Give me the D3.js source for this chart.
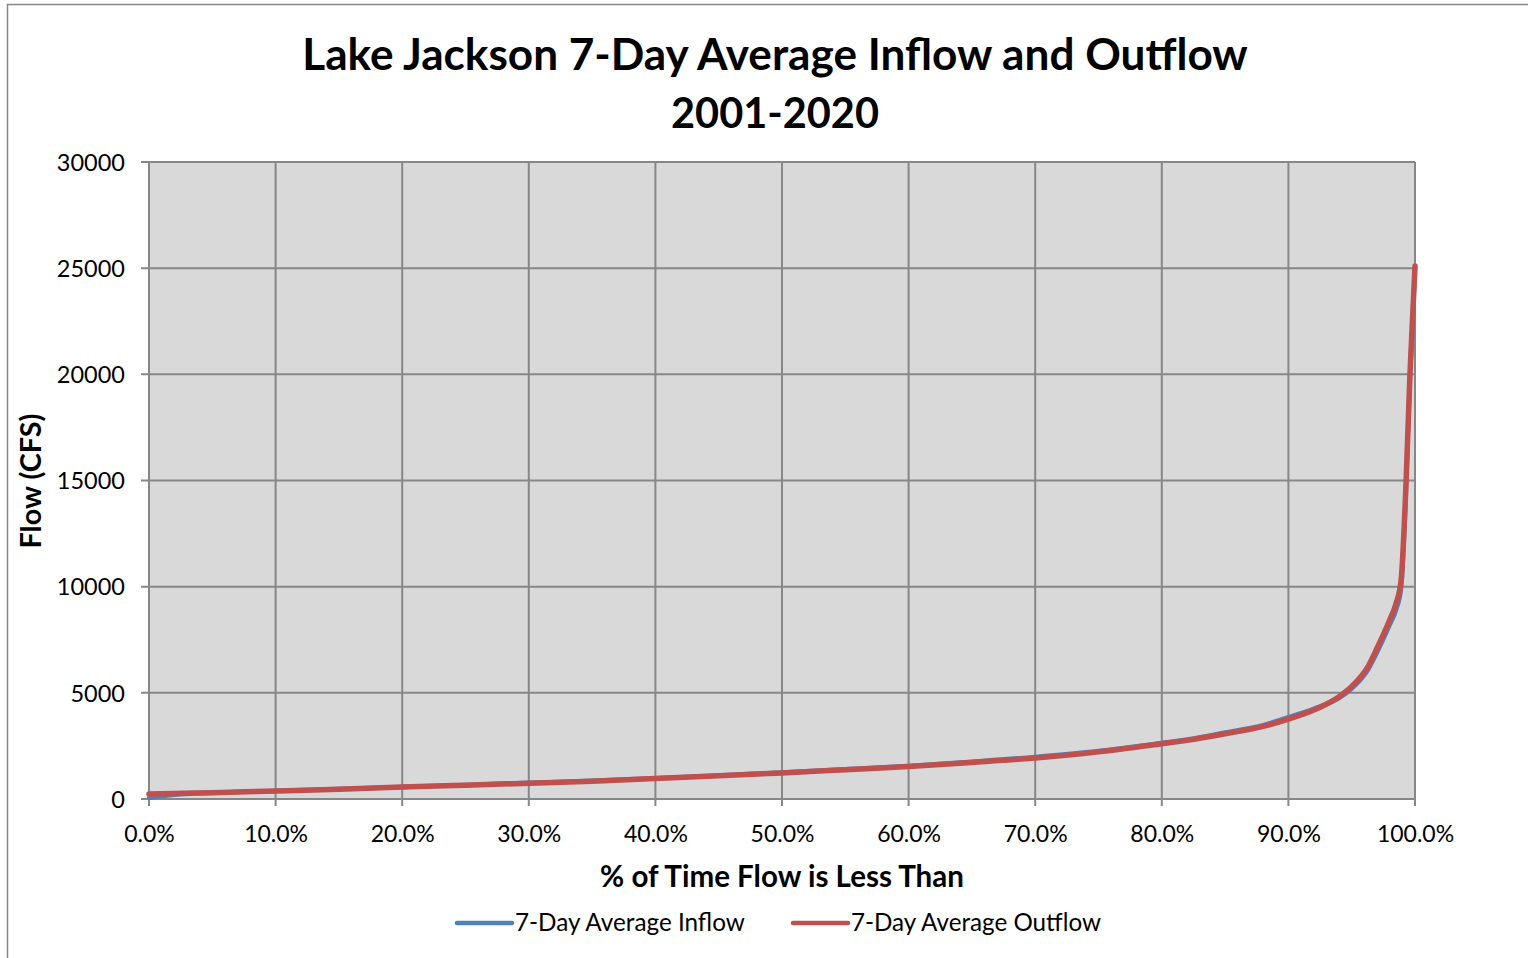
<!DOCTYPE html>
<html><head><meta charset="utf-8">
<script src="https://cdn.jsdelivr.net/npm/d3@7"></script>
<style>body{margin:0;background:#fff}svg{display:block}text{font-family:Lato,"Liberation Sans",sans-serif;fill:#000}</style>
</head><body>
<svg id="c" width="1528" height="958"></svg>
<script>
// Data
const titleLines = ["Lake Jackson 7-Day Average Inflow and Outflow", "2001-2020"];
const xTicks = [0,10,20,30,40,50,60,70,80,90,100];
const yTicks = [0,5000,10000,15000,20000,25000,30000];
const seriesNames = ["7-Day Average Inflow", "7-Day Average Outflow"];
const inflowPct =  [0, 2, 5, 10, 15, 20, 25, 30, 35, 40, 45, 50, 55, 60, 65, 70, 75, 80, 82, 85, 88, 90, 92, 94, 95, 96.3, 97, 98, 98.5, 98.9, 99.3, 99.6, 100];
const inflowCfs =  [50, 200, 290, 380, 470, 570, 660, 760, 860, 980, 1110, 1250, 1400, 1560, 1760, 1980, 2260, 2640, 2800, 3130, 3480, 3850, 4250, 4750, 5200, 6100, 6900, 8200, 8900, 9900, 14800, 19900, 25000];
const outflowPct = [0, 2, 5, 10, 15, 20, 25, 30, 35, 40, 45, 50, 55, 60, 65, 70, 75, 80, 82, 85, 88, 90, 92, 94, 95, 96.3, 97, 98, 98.5, 98.9, 99.3, 99.6, 100];
const outflowCfs = [230, 260, 300, 380, 460, 560, 650, 740, 840, 960, 1090, 1230, 1380, 1530, 1720, 1930, 2220, 2600, 2760, 3070, 3420, 3760, 4190, 4820, 5300, 6250, 7100, 8430, 9200, 10300, 15000, 20000, 25100];
const colors = ["#4F81BD", "#C0504D"];

const svg = d3.select("#c");
const W = 1528, H = 958;
const L = 149, R = 1415, T = 162, B = 799;
const x = d3.scaleLinear().domain([0,100]).range([L,R]);
const y = d3.scaleLinear().domain([0,30000]).range([B,T]);

function fit(sel, w){
  const n = sel.node(); const cur = n.getComputedTextLength();
  const fs = parseFloat(sel.attr("font-size"));
  sel.attr("font-size", fs * w / cur);
}

// outer border
svg.append("path").attr("d", `M7.5,${H} V4.5 H${W}`).attr("fill","none").attr("stroke","#878787").attr("stroke-width",1.5);

// plot bg
svg.append("rect").attr("x",L).attr("y",T).attr("width",R-L).attr("height",B-T).attr("fill","#D9D9D9");

// grid
const g = svg.append("g");
g.selectAll(".vg").data(xTicks).join("line").attr("x1",d=>x(d)).attr("x2",d=>x(d)).attr("y1",T).attr("y2",B+7).attr("stroke","#878787").attr("stroke-width",2);
g.selectAll(".hg").data(yTicks).join("line").attr("x1",L-8).attr("x2",R).attr("y1",d=>y(d)).attr("y2",d=>y(d)).attr("stroke","#878787").attr("stroke-width",2);

// axes labels
const yax = d3.axisLeft(y).tickValues(yTicks).tickSize(0).tickPadding(0).tickFormat(d3.format("d"));
const ya = svg.append("g").attr("transform",`translate(${L-24},0)`).call(yax);
ya.select(".domain").remove();
ya.selectAll("text").attr("font-size",23.5).attr("font-family","Lato").attr("fill","#000").attr("dy","0.35em").attr("dx",0);
const xax = d3.axisBottom(x).tickValues(xTicks).tickSize(0).tickPadding(0).tickFormat(d=>d.toFixed(1)+"%");
const xa = svg.append("g").attr("transform",`translate(0,${B+35})`).call(xax);
xa.select(".domain").remove();
xa.selectAll("text").attr("font-size",23).attr("font-family","Lato").attr("fill","#000").attr("dy","0.35em");

// lines
const line = d3.line().x(d=>x(d[0])).y(d=>y(d[1])).curve(d3.curveMonotoneX);
const inflow = inflowPct.map((p,i)=>[p,inflowCfs[i]]);
const outflow = outflowPct.map((p,i)=>[p,outflowCfs[i]]);
svg.append("path").datum(inflow).attr("d",line).attr("fill","none").attr("stroke",colors[0]).attr("stroke-width",4.5).attr("stroke-linejoin","round").attr("stroke-linecap","round");
svg.append("path").datum(outflow).attr("d",line).attr("fill","none").attr("stroke",colors[1]).attr("stroke-width",5.5).attr("stroke-linejoin","round").attr("stroke-linecap","round");

// title
const t1 = svg.append("text").attr("x",775).attr("y",70).attr("text-anchor","middle").attr("font-weight","bold").attr("font-size",40).text(titleLines[0]);
fit(t1, 946);
const t2 = svg.append("text").attr("x",775).attr("y",128).attr("text-anchor","middle").attr("font-weight","bold").attr("font-size",40).text(titleLines[1]);
fit(t2, 208);

// axis titles
const xt = svg.append("text").attr("x",782).attr("y",887).attr("text-anchor","middle").attr("font-weight","bold").attr("font-size",26).text("% of Time Flow is Less Than");
fit(xt, 364);
const yt = svg.append("text").attr("transform","translate(41,481) rotate(-90)").attr("text-anchor","middle").attr("font-weight","bold").attr("font-size",26).text("Flow (CFS)");
fit(yt, 135);

// legend
const leg = [{x1:457,x2:512,tx:515,tw:230},{x1:793,x2:848,tx:851,tw:250}];
leg.forEach((l,i)=>{
  svg.append("line").attr("x1",l.x1).attr("x2",l.x2).attr("y1",923).attr("y2",923).attr("stroke",colors[i]).attr("stroke-width",4.5).attr("stroke-linecap","round");
  const t = svg.append("text").attr("x",l.tx).attr("y",931).attr("font-size",22).text(seriesNames[i]);
  fit(t, l.tw);
});
</script>
</body></html>
